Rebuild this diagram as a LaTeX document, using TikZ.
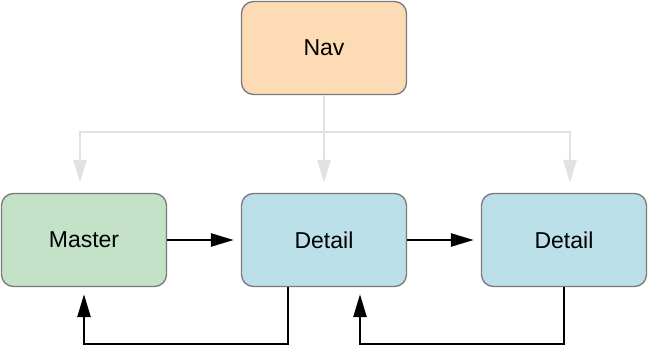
\documentclass[tikz,border=0pt]{standalone}
\usepackage{fontspec}
\setmainfont{Liberation Sans}
\usetikzlibrary{arrows.meta}
\definecolor{navfill}{HTML}{FDDBB4}
\definecolor{masterfill}{HTML}{C3E2C8}
\definecolor{detailfill}{HTML}{BCE0EA}
\definecolor{boxline}{HTML}{7A7A7A}
\definecolor{feedgray}{HTML}{E2E2E2}
\begin{document}
\begin{tikzpicture}[x=1pt,y=-1pt,
  box/.style={draw=boxline,line width=1.3pt,rounded corners=12pt,
    minimum width=165pt,minimum height=93pt,font=\fontsize{23}{27}\selectfont},
  link/.style={line width=2.6pt,-{Triangle[length=23pt,width=13pt]},shorten >=7pt},
  feed/.style={link,draw=feedgray,shorten >=10pt}]
  \useasboundingbox (0,0) rectangle (648,348);
  % boxes
  \node[box,fill=navfill] (nav) at (324,48) {Nav};
  \node[box,fill=masterfill] (master) at (84,240) {Master};
  \node[box,fill=detailfill] (detail) at (324,240) {Detail};
  \node[box,fill=detailfill] (detail2) at (564,240) {Detail};
  % nav fans out to the three views
  \coordinate (split) at (324,132);
  \draw[feedgray,line width=2.6pt] (nav) -- (split);
  \draw[feed] (split) -| ([xshift=-4pt]master.north);
  \draw[feed] (split) -- (detail.north);
  \draw[feed] (split) -| ([xshift=6pt]detail2.north);
  % push forward
  \draw[link] (master) -- (detail);
  \draw[link] (detail) -- (detail2);
  % and back again
  \draw[link] ([xshift=-36pt]detail.south) -- ++(0,57) -| (master.south);
  \draw[link] (detail2.south) -- ++(0,57) -| ([xshift=36pt]detail.south);
\end{tikzpicture}
\end{document}
